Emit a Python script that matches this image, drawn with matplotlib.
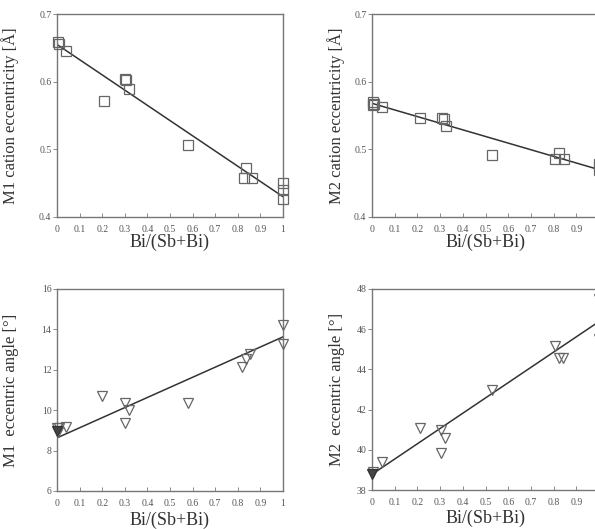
import numpy as np
import matplotlib
matplotlib.use("Agg")
import matplotlib.pyplot as plt

plt.rcParams['font.family'] = ['Liberation Serif', 'DejaVu Serif']

# M1 cation eccentricity [A]
m1_ecc_x = [0.003, 0.007, 0.04, 0.21, 0.30, 0.305, 0.32, 0.578, 0.838, 0.828, 0.863, 1.0, 1.0, 1.0]
m1_ecc_y = [0.659, 0.656, 0.646, 0.572, 0.604, 0.602, 0.589, 0.506, 0.473, 0.458, 0.458, 0.450, 0.440, 0.427]
m1_ecc_fit = [0.655, -0.225]   # intercept, slope

# M2 cation eccentricity [A]
m2_ecc_x = [0.003, 0.009, 0.005, 0.045, 0.213, 0.309, 0.315, 0.327, 0.53, 0.822, 0.807, 0.845, 1.0, 1.0]
m2_ecc_y = [0.570, 0.567, 0.565, 0.563, 0.546, 0.547, 0.545, 0.535, 0.492, 0.494, 0.485, 0.486, 0.479, 0.469]
m2_ecc_fit = [0.568, -0.098]

# M1 eccentric angle [deg]
m1_ang_x = [0.0, 0.01, 0.005, 0.04, 0.2, 0.3, 0.3, 0.32, 0.578, 0.82, 0.836, 0.854, 1.0, 1.0]
m1_ang_y = [9.1, 9.1, 8.9, 9.15, 10.7, 10.35, 9.35, 10.0, 10.35, 12.15, 12.55, 12.8, 14.2, 13.3]
m1_ang_dark = [0.0, 8.95]
m1_ang_fit = [8.63, 5.0]

# M2 eccentric angle [deg]
m2_ang_x = [0.003, 0.042, 0.213, 0.305, 0.322, 0.305, 0.53, 0.807, 0.822, 0.843, 1.0, 1.0]
m2_ang_y = [38.9, 39.37, 41.09, 40.98, 40.6, 39.85, 42.96, 45.16, 44.58, 44.58, 47.5, 45.5]
m2_ang_dark = [0.0, 38.82]
m2_ang_fit = [38.78, 7.6]

xticks = np.round(np.arange(0, 1.01, 0.1), 1)
xticklabels = ['0', '0.1', '0.2', '0.3', '0.4', '0.5', '0.6', '0.7', '0.8', '0.9', '1']

W, H = 595, 529
fig = plt.figure(figsize=(W / 100, H / 100), dpi=100)

def make_ax(left, top, right, bottom):
    return fig.add_axes([left / W, 1 - bottom / H, (right - left) / W, (bottom - top) / H])

spine_col = '#777777'
mark_col = '#666666'

def style(ax, ylim, yticks, ylabel, ylab_x, xlab_y, cut_right=False):
    ax.set_xlim(0, 1)
    ax.set_ylim(*ylim)
    ax.set_xticks(xticks)
    labels = list(xticklabels)
    if cut_right:
        labels[-1] = ''   # runs off the picture edge in the original
        ax.spines['right'].set_visible(False)
    ax.set_xticklabels(labels)
    ax.set_yticks(yticks)
    ax.set_yticklabels([('%g' % t) for t in yticks])
    for s in ax.spines.values():
        s.set_color(spine_col)
        s.set_linewidth(1.0)
    ax.tick_params(axis='x', direction='in', length=3, width=0.6, color=spine_col,
                   labelsize=7, labelcolor='#555555', pad=6)
    ax.tick_params(axis='y', direction='out', length=3, width=0.6, color=spine_col,
                   labelsize=7, labelcolor='#555555', pad=1)
    ax.set_xlabel('Bi/(Sb+Bi)', fontsize=13, color='#333333')
    ax.set_ylabel(ylabel, fontsize=12, color='#333333')
    ax.xaxis.set_label_coords(0.5, xlab_y)
    ax.yaxis.set_label_coords(ylab_x, 0.5)

def fit_line(ax, fit):
    xs = np.array([0.0, 1.0])
    ax.plot(xs, fit[0] + fit[1] * xs, color='#333333', lw=1.1, zorder=2)

# top left
ax1 = make_ax(57, 14, 283, 217)
fit_line(ax1, m1_ecc_fit)
ax1.plot(m1_ecc_x, m1_ecc_y, 's', ms=6.5, mfc='none', mec=mark_col, mew=0.9, clip_on=False, zorder=3)
style(ax1, (0.4, 0.7), [0.4, 0.5, 0.6, 0.7], 'M1 cation eccentricity [Å]', -0.17, -0.08)

# top right
ax2 = make_ax(372, 14, 599, 217)
fit_line(ax2, m2_ecc_fit)
ax2.plot(m2_ecc_x, m2_ecc_y, 's', ms=6.5, mfc='none', mec=mark_col, mew=0.9, clip_on=False, zorder=3)
style(ax2, (0.4, 0.7), [0.4, 0.5, 0.6, 0.7], 'M2 cation eccentricity [Å]', -0.12, -0.08, cut_right=True)

# bottom left
ax3 = make_ax(57, 289, 283, 491)
fit_line(ax3, m1_ang_fit)
ax3.plot(m1_ang_x, m1_ang_y, 'v', ms=6.5, mfc='none', mec=mark_col, mew=0.9, clip_on=False, zorder=3)
ax3.plot(m1_ang_dark[0], m1_ang_dark[1], 'v', ms=6.5, mfc='#444444', mec='#333333', mew=0.9, clip_on=False, zorder=4)
style(ax3, (6, 16), [6, 8, 10, 12, 14, 16], 'M1  eccentric angle [°]', -0.17, -0.10)

# bottom right
ax4 = make_ax(372, 289, 599, 490)
fit_line(ax4, m2_ang_fit)
ax4.plot(m2_ang_x, m2_ang_y, 'v', ms=6.5, mfc='none', mec=mark_col, mew=0.9, clip_on=False, zorder=3)
ax4.plot(m2_ang_dark[0], m2_ang_dark[1], 'v', ms=6.5, mfc='#444444', mec='#333333', mew=0.9, clip_on=False, zorder=4)
style(ax4, (38, 48), [38, 40, 42, 44, 46, 48], 'M2  eccentric angle [°]', -0.12, -0.10, cut_right=True)

fig.savefig('out.png', dpi=100)
